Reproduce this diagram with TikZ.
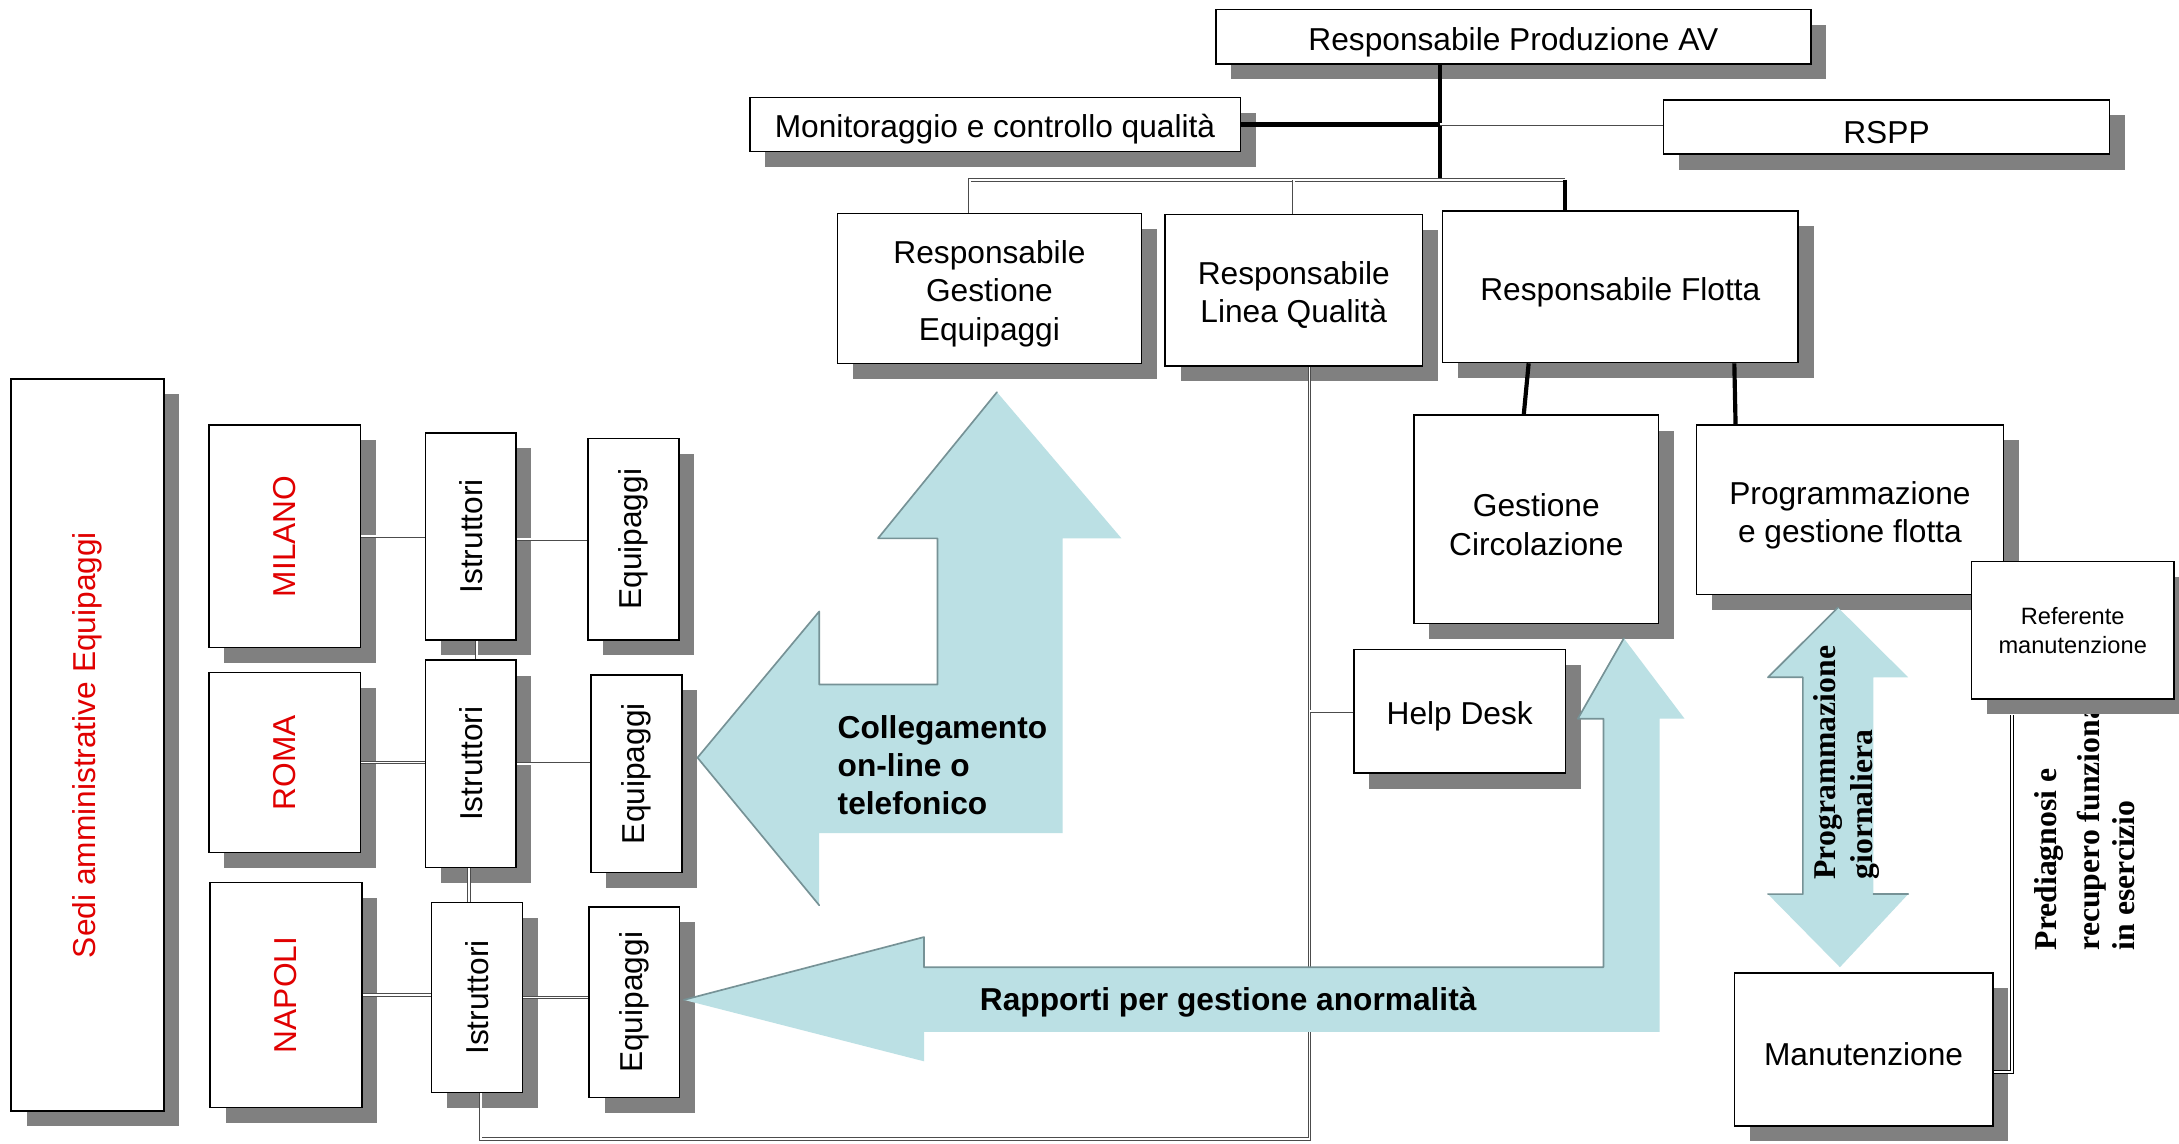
\documentclass[tikz,border=0pt]{standalone}
\usepackage{fontspec}
\usepackage{graphicx}
\setmainfont{Liberation Sans}
\newfontfamily\srf{Liberation Serif}
\usetikzlibrary{shadows}
\definecolor{shd}{RGB}{128,128,128}
\definecolor{abl}{RGB}{187,224,228}
\definecolor{aed}{RGB}{118,146,150}
\definecolor{rd}{RGB}{224,0,0}
\newcommand{\tup}{\rule{0pt}{24pt}}
\pgfdeclarelayer{lines}
\pgfdeclarelayer{arrows}
\pgfdeclarelayer{top}
\pgfsetlayers{main,lines,arrows,top}
\tikzset{
  box/.style={draw=black, line width=1.1pt, fill=white, inner sep=0pt, align=center,
    general shadow={fill=shd, shadow xshift=11pt, shadow yshift=-11pt},
    font=\fontsize{22.8pt}{27.5pt}\selectfont},
  redtxt/.style={text=rd},
  thk/.style={line width=3pt, black},
  dbl/.style={draw=black!70, line width=0.5pt, double=white, double distance=1.4pt},
  dbltwo/.style={draw=black, line width=0.8pt, double=white, double distance=1.6pt},
  aedge/.style={draw=aed, line width=1.2pt, line join=round, line cap=round},
  lbl/.style={inner sep=0pt, font=\bfseries\fontsize{22.8pt}{27.5pt}\selectfont},
  srft/.style={inner sep=0pt, rotate=90, anchor=base west, font=\srf\bfseries\fontsize{22.8pt}{27.5pt}\selectfont}
}
\begin{document}
\begin{tikzpicture}[x=1pt,y=-1pt]
\useasboundingbox (0,0) rectangle (1568,823.2);
\fill[white] (0,0) rectangle (1568,823.2);

% ---------- boxes (main layer) ----------
\node[box, minimum width=428pt, minimum height=39pt] (prod) at (1089,26.5) {\tup Responsabile Produzione AV};
\node[box, minimum width=353pt, minimum height=39pt] (mon) at (716,89.5) {\tup Monitoraggio e controllo qualità};
\node[box, minimum width=321pt, minimum height=39pt] (rspp) at (1357.5,91.5) {\tup RSPP};
\node[box, minimum width=219pt, minimum height=108pt] (rge) at (712,207.6) {\tup Responsabile\\Gestione\\Equipaggi};
\node[box, minimum width=185pt, minimum height=109pt] (rlq) at (931,208.8) {\tup Responsabile\\Linea Qualità};
\node[box, minimum width=256pt, minimum height=109pt] (rfl) at (1166,206.4) {\tup Responsabile Flotta};
\node[box, minimum width=176pt, minimum height=150pt] (gc) at (1105.5,373.8) {\tup Gestione\\Circolazione};
\node[box, minimum width=221pt, minimum height=122pt] (pgf) at (1331.2,366.9) {\tup Programmazione\\e gestione flotta};
\node[box, minimum width=152pt, minimum height=89pt] (hd) at (1050.4,511.9) {\tup Help Desk};
\node[box, minimum width=186pt, minimum height=110pt] (man) at (1341,755.1) {\tup Manutenzione};

\node[box, redtxt, minimum width=110pt, minimum height=527pt] (sedi) at (63.1,536.1) {\rotatebox{90}{Sedi amministrative Equipaggi}};
\node[box, redtxt, minimum width=109pt, minimum height=160pt] (milano) at (204.8,385.9) {\rotatebox{90}{MILANO}};
\node[box, redtxt, minimum width=109pt, minimum height=129.5pt] (roma) at (204.8,548.7) {\rotatebox{90}{ROMA}};
\node[box, redtxt, minimum width=109pt, minimum height=162pt] (napoli) at (205.8,716) {\rotatebox{90}{NAPOLI}};
\node[box, minimum width=65pt, minimum height=149pt] (i1) at (338.8,385.9) {\rotatebox{90}{Istruttori}};
\node[box, minimum width=65pt, minimum height=149pt] (i2) at (338.8,549.6) {\rotatebox{90}{Istruttori}};
\node[box, minimum width=65.5pt, minimum height=137pt] (i3) at (343.3,717.8) {\rotatebox{90}{Istruttori}};
\node[box, minimum width=65.7pt, minimum height=145pt] (e1) at (455.8,388) {\rotatebox{90}{Equipaggi}};
\node[box, minimum width=65.4pt, minimum height=142pt] (e2) at (457.9,556.7) {\rotatebox{90}{Equipaggi}};
\node[box, minimum width=65pt, minimum height=137pt] (e3) at (456.5,721.3) {\rotatebox{90}{Equipaggi}};

% ---------- top layer: rotated serif text covered by Referente box ----------
\begin{pgfonlayer}{top}
\node[srft] (pd1) at (1480,684) {Prediagnosi e};
\node[srft] (pd2) at (1510.5,684) {recupero funzionalità};
\node[srft] (pd3) at (1536,684) {in esercizio};
\node[box, font=\fontsize{17pt}{21pt}\selectfont, minimum width=146pt, minimum height=99pt] (ref) at (1491.5,453.5) {Referente\\manutenzione};
\end{pgfonlayer}

% ---------- connectors ----------
\begin{pgfonlayer}{lines}
\coordinate (j1) at (1036,129.5);
\coordinate (pj) at ([xshift=-53pt]prod.south);
\draw[thk] (pj) -- (pj |- j1);
\draw[thk, line width=4pt] (mon.east) -- (mon.east -| j1);
\draw[dbl] (mon.east -| j1) -- (rspp.west |- mon.east);
\coordinate (ge) at ([xshift=-14.3pt]rge.north);
\draw[dbl] (ge) |- (j1);
\draw[dbl] (rlq.north) -- (rlq.north |- j1);
\coordinate (ft) at ([xshift=-40pt]rfl.north);
\draw[dbl] (j1) -- (ft |- j1);
\draw[thk] (ft |- j1) -- (ft);
\draw[thk] ([xshift=-66pt]rfl.south) -- ([xshift=-9pt]gc.north);
\draw[thk] ([xshift=82pt]rfl.south) -- ([xshift=-82.3pt]pgf.north);

\draw[dbl] (milano.east) -- (milano.east -| i1.west);
\draw[dbl] (e1.west -| i1.east) -- (e1.west);
\draw[dbl] (roma.east) -- (roma.east -| i2.west);
\draw[dbl] (i2.east) -- (i2.east -| e2.west);
\draw[dbl] (napoli.east) -- (napoli.east -| i3.west);
\draw[dbl] (i3.east) -- (i3.east -| e3.west);
\coordinate (a1) at ([xshift=4.2pt]i1.south);
\draw[dbl] (a1) -- (a1 |- i2.north);
\coordinate (a2) at ([xshift=-1.2pt]i2.south);
\draw[dbl] (a2) -- (a2 |- i3.north);
\coordinate (a3) at ([xshift=2.7pt]i3.south);
\coordinate (lqb) at ([xshift=11.3pt]rlq.south);
\coordinate (bot) at (0,819.5);
\draw[dbl] (a3) -- (a3 |- bot) -- (lqb |- bot) -- (lqb);
\draw[dbl] (hd.west) -- (hd.west -| lqb);
\coordinate (rb) at ([xshift=-43.8pt, yshift=-11pt]ref.south);
\draw[dbltwo] (rb) |- ([yshift=-16.3pt]man.east);
\end{pgfonlayer}

% ---------- light blue arrows ----------
\begin{pgfonlayer}{arrows}
\fill[abl] (717.4,282.2) -- (807,387.4) -- (764.6,387.4) -- (764.6,599.5) -- (589.5,599.5) -- (589.5,651.4) -- (501.9,545.2) -- (589.5,440) -- (589.5,492.6) -- (674.6,492.6) -- (674.6,387.4) -- (631.8,387.4) -- cycle;
\draw[aedge] (589.5,651.4) -- (501.9,545.2) -- (589.5,440) -- (589.5,492.6) -- (674.6,492.6) -- (674.6,387.4) -- (631.8,387.4) -- (717.4,282.2);
\node[lbl, anchor=west, align=left] (col) at (602.6,550.5) {Collegamento\\on-line o\\telefonico};

\fill[abl] (492.1,719.5) -- (664.9,674.3) -- (664.9,696) -- (1153.8,696) -- (1153.8,517.2) -- (1135.4,517.2) -- (1168.5,459.3) -- (1212.2,517.2) -- (1194.2,517.2) -- (1194.2,742.6) -- (664.9,742.6) -- (664.9,763.7) -- cycle;
\draw[aedge] (492.1,719.5) -- (664.9,674.3) -- (664.9,696) -- (1153.8,696) -- (1153.8,517.2) -- (1135.4,517.2) -- (1168.5,459.3);
\node[lbl] (rap) at (883.8,721.5) {Rapporti per gestione anormalità};

\fill[abl] (1322.6,437.2) -- (1373.1,487.4) -- (1348.1,487.4) -- (1348.1,643.4) -- (1373.1,643.4) -- (1324,696) -- (1272.2,643.4) -- (1297.3,643.4) -- (1297.3,487.4) -- (1272.2,487.4) -- cycle;
\draw[aedge] (1322.6,437.2) -- (1272.2,487.4) -- (1297.3,487.4) -- (1297.3,643.4) -- (1272.2,643.4);
\draw[aedge] (1348.1,643.4) -- (1373.1,643.4);
\node[srft] (pg1) at (1321,633) {Programmazione};
\node[srft] (pg2) at (1347.5,633) {giornaliera};
\end{pgfonlayer}
\end{tikzpicture}
\end{document}
